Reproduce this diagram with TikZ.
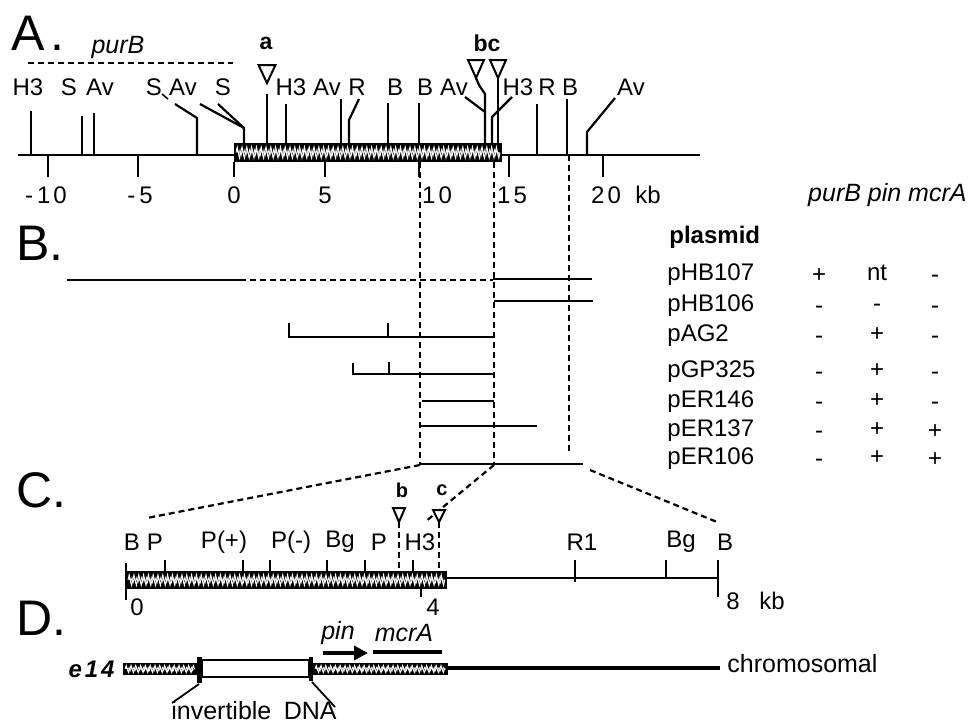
\documentclass[tikz,border=0pt]{standalone}
\usepackage{fontspec}
\setmainfont{Liberation Sans}
\usetikzlibrary{arrows.meta, decorations.pathmorphing}

% black clone bar with white squiggles
\newcommand{\hatchbar}[4]{%
  \fill[black] (#1,#2) rectangle (#3,#4);
  \pgfmathsetmacro{\hbmid}{(#2+#4)/2}
  \pgfmathsetmacro{\hbamp}{(#4-#2)*0.15}
  \draw[white, line width=0.45pt, decorate, decoration={zigzag, segment length=2.4pt, amplitude=\hbamp pt}] (#1+2,\hbmid) -- (#3-2,\hbmid);
  \draw[white, line width=0.3pt, decorate, decoration={zigzag, segment length=1.2pt, amplitude=\hbamp*0.5 pt}] (#1+3,\hbmid) -- (#3-3,\hbmid);
}

\begin{document}
\begin{tikzpicture}[x=0.5pt, y=-0.5pt,
  site/.style={line width=1.1pt},
  lbl/.style={font=\fontsize{12}{12}\selectfont, inner sep=0pt},
  small/.style={font=\fontsize{10}{10}\selectfont\bfseries, inner sep=0pt},
  sec/.style={font=\fontsize{25}{25}\selectfont, inner sep=0pt, anchor=west},
  dashline/.style={line width=1.1pt, dash pattern=on 3pt off 2pt},
  clone/.style={line width=1.3pt},
  tbl/.style={font=\fontsize{12}{12}\selectfont, inner sep=0pt, anchor=base west},
  sign/.style={font=\fontsize{12}{12}\selectfont, inner sep=0pt, anchor=base},
  opentri/.style={line width=1pt, fill=white},
]
\useasboundingbox (0,0) rectangle (969,723);

% ---- A. ----
\node[sec] (secA) at (11,33) {A\kern3pt.};
\node[lbl, font=\fontsize{12.5}{13}\selectfont\itshape] (purBlbl) at (118,47) {purB};
\draw[dashline] (28,63) -- (233,63);

\draw[line width=1.2pt] (18,155) -- (700,155);
\hatchbar{234}{143}{502}{162}
\foreach \x/\yt in {48/155, 138/155, 234/162, 325/162, 419/162, 509/155, 603/155}
  \draw[site] (\x,\yt) -- (\x,177);
\foreach \x/\t [count=\i] in {46/-\kern2pt1\kern1.5pt0, 140/-\kern2pt5, 234/0, 325/5, 437/1\kern1.5pt0, 512/1\kern1.5pt5, 606/2\kern1.5pt0, 648/kb}
  \node[lbl] (num\i) at (\x,195) {\t};

% simple sites
\foreach \x/\yt/\yb/\lx/\t [count=\i] in {31/111/155/28/H3, 82/116/155/69/S, 94/113/155/100/Av, 286/104/143/291/H3, 341/99/143/327/Av, 388/103/143/395/B, 419/103/143/425/B, 537/104/155/547/R, 567/99/155/570/B}
{
  \draw[site] (\x,\yt) -- (\x,\yb);
  \node[lbl] (sa\i) at (\lx,87) {\t};
}
% sites with leaders
\node[lbl] (sS1) at (154,87) {S};
\draw[line width=0.8pt] (162,94) -- (168,99);
\node[lbl] (sAv1) at (183,87) {Av};
\draw[site] (197,155) -- (197,118) -- (175,104);
\node[lbl] (sS2) at (223,87) {S};
\draw[site] (244,143) -- (244,128) -- (200,104);
\draw[site] (244,128) -- (218,104);
\node[lbl] (sR1) at (357,87) {R};
\draw[site] (349,143) -- (349,120) -- (359,99);
\node[lbl] (sAv2) at (454,87) {Av};
\draw[site] (465,97) -- (485,112);
\node[lbl] (sH3) at (518,87) {H3};
\draw[site] (512,97) -- (492,117) -- (492,143);
\node[lbl] (sAv3) at (631,87) {Av};
\draw[site] (587,155) -- (587,132) -- (615,98);

% insertions a, b, c
\node[lbl, font=\fontsize{11.5}{12}\selectfont\bfseries] (insa) at (266,43) {a};
\draw[opentri] (258.5,65) -- (275.5,65) -- (267,83) -- cycle;
\draw[site] (267,94) -- (267,143);
\node[lbl, font=\fontsize{11.5}{12}\selectfont\bfseries] (insbc) at (487,43) {bc};
\draw[opentri] (468,60) -- (484,60) -- (476,78) -- cycle;
\draw[opentri] (490,60) -- (506,60) -- (498,78) -- cycle;
\draw[site] (476,78) -- (479,85) -- (485,94) -- (485,143);
\draw[site] (498,78) -- (498,143);

% ---- B. ----
\node[sec] (secB) at (16,243) {B.};
\draw[dashline] (420,162) -- (420,464);
\draw[dashline] (494,162) -- (494,464);
\draw[dashline] (569,155) -- (569,453);

\draw[clone] (67,280) -- (240,280);
\draw[dashline] (240,280) -- (493,280);
\draw[clone] (493,279) -- (592,279);
\draw[clone] (494,301) -- (593,301);
\draw[clone] (289,323) -- (289,337) -- (494,337);
\draw[clone] (388,323) -- (388,337);
\draw[clone] (353,363) -- (353,374) -- (494,374);
\draw[clone] (389,362) -- (389,374);
\draw[clone] (422,401) -- (494,401);
\draw[clone] (419,426) -- (537,426);
\draw[clone] (420,464) -- (583,464);

% table
\node[lbl, anchor=east, font=\fontsize{12.5}{13}\selectfont\itshape] (genes) at (967,195) {purB pin mcrA};
\node[tbl, font=\fontsize{12}{12}\selectfont\bfseries] (plhead) at (669,243) {plasmid};
\foreach \p/\y/\ka/\kb/\kc [count=\i] in {pHB107/280/+/nt/-, pHB106/311/-/-/-, pAG2/341/-/+/-, pGP325/377/-/+/-, pER146/407/-/+/-, pER137/436/-/+/+, pER106/464/-/+/+}
{
  \node[tbl] (pl\i) at (667,\y) {\p};
  \node[sign] (pa\i) at (819,\y+2) {\ka};
  \node[sign] (pb\i) at (877,\y) {\kb};
  \node[sign] (pc\i) at (935,\y+2) {\kc};
}

% ---- C. ----
\node[sec] (secC) at (16,490) {C.};
\draw[dashline] (420,465) -- (147,518);
\draw[dashline] (494,465) -- (425,522);
\draw[dashline] (590,470) -- (717,522);

\draw[line width=1.2pt] (447,578) -- (718,578);
\hatchbar{126}{571}{447}{589}
\draw[site] (126,563) -- (126,600);
\foreach \x in {165, 243, 270, 327, 365, 413}
  \draw[site] (\x,560) -- (\x,571);
\draw[site] (421,589) -- (421,597);
\draw[site] (575,560) -- (575,582);
\draw[site] (666,560) -- (666,578);
\draw[site] (718,560) -- (718,597);
\foreach \x/\t [count=\i] in {132/B, 155/P, 224/P(+), 291/P(-), 340/Bg, 379/P, 420/H3, 582/R1, 681/Bg, 725/B}
  \node[lbl] (sc\i) at (\x,542) {\t};
\node[small] (insb) at (402,490) {b};
\node[small] (insc) at (442,490) {c};
\draw[opentri] (393,508) -- (405,508) -- (399,522) -- cycle;
\draw[opentri] (433,510) -- (445,510) -- (439,522) -- cycle;
\draw[dashline] (399,522) -- (399,571);
\draw[dashline] (439,522) -- (439,571);
\node[lbl] (c0) at (137,607) {0};
\node[lbl] (c4) at (433,607) {4};
\node[lbl] (c8) at (733,601) {8};
\node[lbl] (ckb) at (772,601) {kb};

% ---- D. ----
\node[sec] (secD) at (16,618) {D.};
\node[lbl, anchor=east, font=\fontsize{12}{12}\selectfont\bfseries\itshape] (e14) at (115,669) {e\kern1.5pt1\kern1.5pt4};
\hatchbar{123}{663}{197}{675}
\draw[line width=1.1pt, fill=white] (202,660) rectangle (309,677);
\fill (197,657) rectangle (202,683);
\fill (309,657) rectangle (313,681);
\hatchbar{313}{663}{448}{675}
\draw[line width=1.7pt] (448,668) -- (720,668);
\node[lbl, anchor=west, font=\fontsize{12.5}{13}\selectfont] (chrom) at (727,664) {chromosomal};
\draw[line width=2.4pt, -{Triangle[length=7pt, width=7pt]}] (323,653) -- (368,653);
\node[lbl, font=\fontsize{12.5}{13}\selectfont\itshape] (pin) at (338,633) {pin};
\draw[line width=2pt] (373,652) -- (442,652);
\node[lbl, font=\fontsize{12.5}{13}\selectfont\itshape] (mcrA) at (404,633) {mcrA};
\draw[line width=0.9pt] (199,684) -- (172,703);
\draw[line width=0.9pt] (312,682) -- (335,707);
\node[lbl, font=\fontsize{12.5}{13}\selectfont] (invDNA) at (254,711) {invertible\enspace DNA};
\end{tikzpicture}
\end{document}
